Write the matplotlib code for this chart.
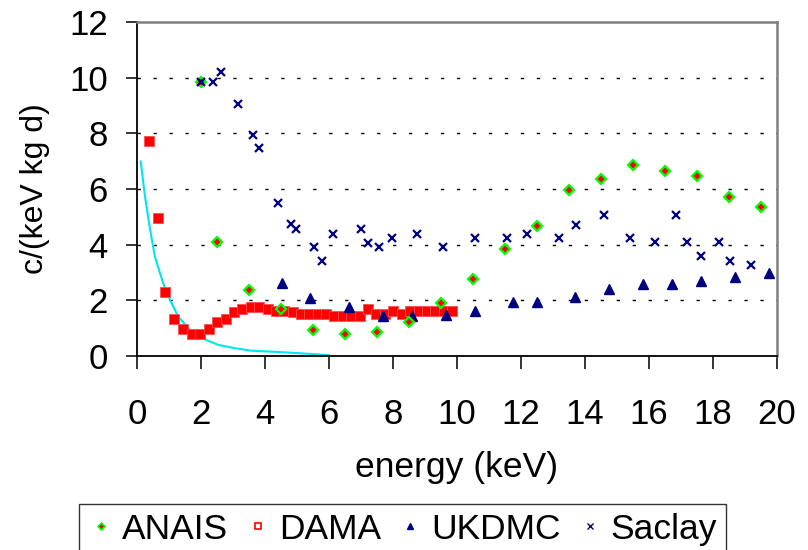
import numpy as np
import matplotlib.pyplot as plt
from matplotlib.lines import Line2D

plt.rcParams['font.family'] = ['Liberation Sans', 'DejaVu Sans']

# DAMA (0.25 keV bins)
dama_e = [0.38, 0.67, 0.89, 1.17, 1.45, 1.71, 1.97, 2.24, 2.50, 2.77, 3.02, 3.28,
          3.55, 3.81, 4.08, 4.34, 4.60, 4.86, 5.12, 5.39, 5.65, 5.91, 6.17, 6.43,
          6.70, 6.96, 7.22, 7.48, 7.75, 8.01, 8.27, 8.53, 8.80, 9.06, 9.32, 9.58, 9.85]
dama_c = [7.71, 4.97, 2.30, 1.32, 0.97, 0.79, 0.79, 0.97, 1.23, 1.32, 1.59, 1.68,
          1.77, 1.77, 1.68, 1.60, 1.60, 1.57, 1.52, 1.52, 1.52, 1.52, 1.42, 1.42,
          1.42, 1.42, 1.69, 1.52, 1.50, 1.60, 1.52, 1.60, 1.60, 1.60, 1.60, 1.60, 1.60]

# ANAIS
anais_e = [2.0, 2.5, 3.5, 4.5, 5.5, 6.5, 7.5, 8.5, 9.5, 10.5, 11.5, 12.5, 13.5,
           14.5, 15.5, 16.5, 17.5, 18.5, 19.5]
anais_c = [9.86, 4.11, 2.37, 1.70, 0.92, 0.78, 0.85, 1.23, 1.89, 2.77, 3.85, 4.68, 5.97,
           6.36, 6.86, 6.65, 6.45, 5.70, 5.35]

# UKDMC
ukdmc_e = [4.52, 5.41, 6.63, 7.68, 8.58, 9.65, 10.55, 11.75, 12.50, 13.70, 14.76,
           15.82, 16.73, 17.62, 18.69, 19.74]
ukdmc_c = [2.64, 2.07, 1.75, 1.44, 1.44, 1.49, 1.63, 1.94, 1.94, 2.12, 2.40,
           2.60, 2.60, 2.71, 2.83, 2.97]

# Saclay
saclay_e = [2.00, 2.38, 2.63, 3.15, 3.63, 3.81, 4.40, 4.81, 4.97, 5.54, 5.78, 6.12,
            6.99, 7.22, 7.57, 7.98, 8.75, 9.57, 10.57, 11.57, 12.20, 13.20, 13.73,
            14.59, 15.41, 16.18, 16.84, 17.19, 17.62, 18.19, 18.52, 19.18]
saclay_c = [9.86, 9.86, 10.19, 9.06, 7.94, 7.46, 5.51, 4.74, 4.56, 3.90, 3.43, 4.39,
            4.56, 4.05, 3.90, 4.23, 4.39, 3.90, 4.23, 4.23, 4.39, 4.23, 4.71,
            5.05, 4.23, 4.08, 5.05, 4.08, 3.59, 4.08, 3.43, 3.26]

# fitted background curve
fit_e = [0.115, 0.25, 0.41, 0.56, 0.72, 0.875, 1.08, 1.29, 1.60, 2.02, 2.54, 3.06,
         3.58, 4.31, 4.93, 6.0]
fit_c = [6.99, 5.73, 4.53, 3.57, 2.97, 2.43, 1.90, 1.41, 1.00, 0.64, 0.40, 0.28,
         0.19, 0.15, 0.11, 0.03]

fig = plt.figure(figsize=(8.08, 5.5), dpi=100)
ax = fig.add_axes([137/808, 1 - 356/550, 640/808, 334/550])

for y in [2, 4, 6, 8, 10]:
    ax.axhline(y, color='black', lw=1.0, ls=(0, (2.4, 9.1)), zorder=1)

ax.plot(fit_e, fit_c, color='#00E5F0', lw=1.5, zorder=2)
ax.plot(dama_e, dama_c, 's', color='#FF0000', ms=6.5, mec='#FF5050', mew=0.6, zorder=3)
ax.plot(ukdmc_e, ukdmc_c, '^', color='#000080', ms=7.5, zorder=4)
ax.plot(anais_e, anais_c, 'D', mfc='#FF0000', mec='#00FF00', ms=5, mew=1.6, zorder=5)
ax.plot(saclay_e, saclay_c, 'x', color='#000080', ms=6, mew=1.6, zorder=6)

ax.set_xlim(0, 20)
ax.set_ylim(0, 12)
ax.set_xticks(np.arange(0, 21, 2))
ax.set_yticks(np.arange(0, 13, 2))

for s in ['left', 'bottom']:
    ax.spines[s].set_color('black')
    ax.spines[s].set_linewidth(1.3)
for s in ['top', 'right']:
    ax.spines[s].set_color('#808080')
    ax.spines[s].set_linewidth(1.8)

ax.tick_params(axis='x', direction='out', length=9.5, width=1.1, pad=21, labelsize=25)
ax.tick_params(axis='y', direction='out', length=8, width=1.1, pad=13, labelsize=25)

ax.set_xlabel('energy (keV)', fontsize=25.5, va='center')
ax.xaxis.set_label_coords(0.5, -0.335)
ax.set_ylabel('c/(keV kg d)', fontsize=23, va='center', ha='center')
ax.yaxis.set_label_coords(-0.159, 0.5)

handles = [
    Line2D([], [], ls='none', marker='D', mfc='#FF0000', mec='#00FF00', ms=3.5, mew=1.2),
    Line2D([], [], ls='none', marker='s', mfc='white', mec='#FF0000', ms=5, mew=1.2),
    Line2D([], [], ls='none', marker='^', color='#000080', ms=5),
    Line2D([], [], ls='none', marker='x', color='#000080', ms=4, mew=1.0),
]
leg = fig.legend(handles, ['ANAIS', 'DAMA', 'UKDMC', 'Saclay'], loc='upper left',
                 bbox_to_anchor=(79/808, 1 - 504/550), borderaxespad=0, ncol=4,
                 fontsize=25.5, frameon=True, fancybox=False, edgecolor='black',
                 borderpad=0.25, handlelength=0.75, handletextpad=0.22,
                 columnspacing=0.45)
leg.get_frame().set_linewidth(1.0)

fig.savefig('out.png', dpi=100)
